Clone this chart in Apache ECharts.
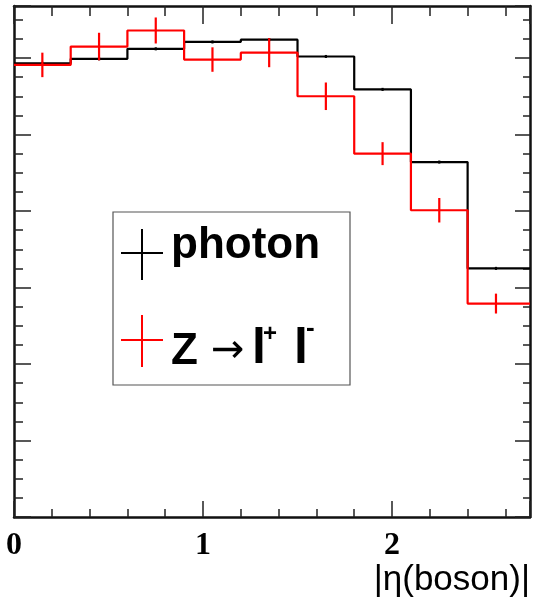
<!DOCTYPE html>
<html>
<head>
<meta charset="utf-8">
<script src="https://cdn.jsdelivr.net/npm/echarts@6/dist/echarts.min.js"></script>
<style>
  html, body { margin: 0; padding: 0; background: #fff; }
  #main { width: 533px; height: 604px; }
</style>
</head>
<body>
<div id="main"></div>
<script>
// bin edges in |eta(boson)|
var binEdges = [0, 0.3, 0.6, 0.9, 1.2, 1.5, 1.8, 2.1, 2.4, 2.7];
var xMax = 2.73;
var yMax = 6.68;

// photon histogram (black)
var photonVals = [5.93, 5.99, 6.12, 6.21, 6.24, 6.02, 5.59, 4.64, 3.25];
var photonErrs = [0.02, 0.02, 0.02, 0.02, 0.02, 0.02, 0.02, 0.02, 0.02];

// Z -> l+ l- histogram (red)
var zVals = [5.91, 6.15, 6.36, 5.98, 6.07, 5.50, 4.75, 4.01, 2.79];
var zErrs = [0.16, 0.18, 0.17, 0.16, 0.19, 0.18, 0.15, 0.16, 0.13];

var xTickLabels = ['0', '1', '2'];

function stepData(vals) {
    var out = [];
    for (var i = 0; i < vals.length; i++) {
        var hi = (i === vals.length - 1) ? xMax : binEdges[i + 1];
        out.push([binEdges[i], vals[i]]);
        out.push([hi, vals[i]]);
    }
    return out;
}

function errData(vals, errs) {
    var out = [];
    for (var i = 0; i < vals.length; i++) {
        out.push([(binEdges[i] + binEdges[i + 1]) / 2, vals[i], errs[i]]);
    }
    return out;
}

function errRender(color) {
    return function (params, api) {
        var c = api.value(0), v = api.value(1), e = api.value(2);
        var p1 = api.coord([c, v - e]);
        var p2 = api.coord([c, v + e]);
        return {
            type: 'line',
            shape: { x1: p1[0], y1: p1[1], x2: p2[0], y2: p2[1] },
            style: { stroke: color, lineWidth: 2.2 }
        };
    };
}

var frame = { show: true, onZero: false, lineStyle: { color: '#111', width: 2.5 } };
var noLine = { show: false, onZero: false };

function xAx(pos, interval, len, labels) {
    return {
        type: 'value', min: 0, max: xMax, interval: interval, position: pos,
        axisLine: labels !== null ? frame : noLine,
        axisTick: { show: true, inside: true, length: len, lineStyle: { color: '#222', width: 1.5 } },
        axisLabel: labels ? {
            show: true, margin: 13, color: '#000',
            fontFamily: 'Liberation Serif', fontWeight: 'bold', fontSize: 32,
            formatter: function (v) { return Number.isInteger(v) && xTickLabels[v] ? xTickLabels[v] : ''; }
        } : { show: false },
        splitLine: { show: false }
    };
}

function yAx(pos, interval, len, line) {
    return {
        type: 'value', min: 0, max: yMax, interval: interval, position: pos,
        axisLine: line ? frame : noLine,
        axisTick: { show: true, inside: true, length: len, lineStyle: { color: '#222', width: 1.5 } },
        axisLabel: { show: false },
        splitLine: { show: false }
    };
}

var myChart = echarts.init(document.getElementById('main'));

var option = {
    animation: false,
    backgroundColor: '#fff',
    grid: { left: 14, right: 2, top: 6, bottom: 87 },
    xAxis: [
        xAx('bottom', 1, 16, true),
        xAx('bottom', 0.2, 8, null),
        xAx('top', 1, 18, false),
        xAx('top', 0.2, 10, null)
    ],
    yAxis: [
        yAx('left', 1, 17, true),
        yAx('left', 0.25, 9, false),
        yAx('right', 1, 15, true),
        yAx('right', 0.25, 7, false)
    ],
    series: [
        {
            name: 'photon', type: 'line', data: stepData(photonVals),
            showSymbol: false, lineStyle: { color: '#000', width: 2.2 }, z: 3
        },
        {
            name: 'Z', type: 'line', data: stepData(zVals),
            showSymbol: false, lineStyle: { color: '#ff0000', width: 2.2 }, z: 4
        },
        {
            type: 'custom', data: errData(photonVals, photonErrs),
            renderItem: errRender('#000'), z: 3
        },
        {
            type: 'custom', data: errData(zVals, zErrs),
            renderItem: errRender('#ff0000'), z: 4
        }
    ],
    graphic: [
        // legend box
        { type: 'rect', shape: { x: 113, y: 212, width: 237, height: 173 },
          style: { fill: '#fff', stroke: '#555', lineWidth: 1.2 }, z: 10 },
        { type: 'line', shape: { x1: 121, y1: 253, x2: 163, y2: 253 }, style: { stroke: '#000', lineWidth: 2 }, z: 11 },
        { type: 'line', shape: { x1: 142, y1: 229, x2: 142, y2: 280 }, style: { stroke: '#000', lineWidth: 2 }, z: 11 },
        { type: 'text', x: 171, y: 268, z: 11,
          style: { text: 'photon', fill: '#000', font: 'bold 44px "Liberation Sans"', textVerticalAlign: 'bottom' } },
        { type: 'line', shape: { x1: 121, y1: 340, x2: 163, y2: 340 }, style: { stroke: '#ff0000', lineWidth: 2 }, z: 11 },
        { type: 'line', shape: { x1: 142, y1: 315, x2: 142, y2: 367 }, style: { stroke: '#ff0000', lineWidth: 2 }, z: 11 },
        { type: 'text', x: 171, y: 374, z: 11,
          style: { text: 'Z', fill: '#000', font: 'bold 44px "Liberation Sans"', textVerticalAlign: 'bottom' } },
        { type: 'text', x: 211, y: 372, z: 11,
          style: { text: '→', fill: '#000', font: '40px "DejaVu Sans"', textVerticalAlign: 'bottom' } },
        { type: 'text', x: 252, y: 374, z: 11,
          style: { text: 'l', fill: '#000', font: 'bold 50px "Liberation Sans"', textVerticalAlign: 'bottom' } },
        { type: 'text', x: 263, y: 346, z: 11,
          style: { text: '+', fill: '#000', font: 'bold 24px "Liberation Sans"', textVerticalAlign: 'bottom' } },
        { type: 'text', x: 294, y: 374, z: 11,
          style: { text: 'l', fill: '#000', font: 'bold 50px "Liberation Sans"', textVerticalAlign: 'bottom' } },
        { type: 'text', x: 306, y: 342, z: 11,
          style: { text: '-', fill: '#000', font: 'bold 26px "Liberation Sans"', textVerticalAlign: 'bottom' } },
        // x axis title
        { type: 'text', x: 530, y: 598, z: 11,
          style: { text: '|η(boson)|', fill: '#000', font: '35px "Liberation Sans"', textAlign: 'right', textVerticalAlign: 'bottom' } }
    ]
};

myChart.setOption(option);
</script>
</body>
</html>
